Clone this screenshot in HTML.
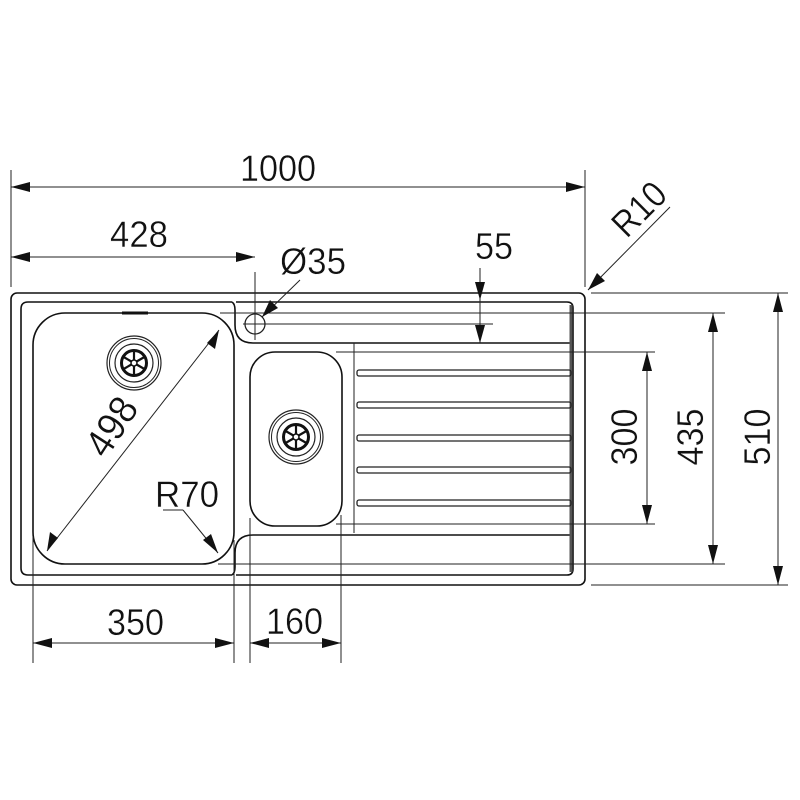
<!DOCTYPE html>
<html><head><meta charset="utf-8"><style>html,body{margin:0;padding:0;background:#fff}svg{display:block}</style></head>
<body>
<svg width="800" height="800" viewBox="0 0 800 800" xmlns="http://www.w3.org/2000/svg">
<defs>
<g id="drain">
<circle r="27" fill="none" stroke="#222" stroke-width="1.2"/>
<circle r="24.5" fill="none" stroke="#222" stroke-width="1"/>
<circle r="19" fill="none" stroke="#222" stroke-width="1.2"/>
<circle r="12.5" fill="none" stroke="#111" stroke-width="3"/>
<circle r="3" fill="none" stroke="#111" stroke-width="1.5"/>
<g stroke="#111" stroke-width="2.2">
<line x1="0" y1="-3" x2="0" y2="-12"/><line x1="0" y1="3" x2="0" y2="12"/>
<line x1="2.6" y1="-1.5" x2="10.4" y2="-6"/><line x1="-2.6" y1="-1.5" x2="-10.4" y2="-6"/>
<line x1="2.6" y1="1.5" x2="10.4" y2="6"/><line x1="-2.6" y1="1.5" x2="-10.4" y2="6"/>
</g>
</g>
</defs>
<g fill="none" stroke="#111" stroke-width="1.6">
<rect x="11" y="293" width="574" height="292" rx="6"/>
<path d="M232,302 H28 Q21,302 21,309 V568 Q21,575 28,575 H232"/>
<path d="M232,302 Q235,304 235,310 V325 Q235,343 253,343 H573"/>
<path d="M232,575 Q235,573 235,567 V553 Q235,535 253,535 H573"/>
<path d="M236,302 H567 Q573,302 573,308 V569 Q573,575 567,575 H236"/>
<line x1="571" y1="305" x2="571" y2="572" stroke-width="3" stroke="#555"/>
<rect x="33" y="313" width="201" height="251" rx="32"/>
<rect x="250" y="352" width="92" height="174" rx="25"/>
<line x1="122" y1="313" x2="148" y2="313" stroke-width="3"/>
</g>
<g fill="none" stroke="#222" stroke-width="1.3">
<rect x="357" y="370" width="214" height="6" rx="2"/>
<rect x="357" y="402" width="214" height="6" rx="2"/>
<rect x="357" y="435" width="214" height="6" rx="2"/>
<rect x="357" y="467" width="214" height="6" rx="2"/>
<rect x="357" y="500" width="214" height="6" rx="2"/>
<circle cx="255" cy="324" r="10"/>
</g>
<use href="#drain" x="134" y="363"/>
<use href="#drain" x="296" y="437"/>
<g stroke="#222" stroke-width="1" fill="none">
<line x1="11" y1="170" x2="11" y2="287"/>
<line x1="585" y1="170" x2="585" y2="287"/>
<line x1="255" y1="272" x2="255" y2="340"/>
<line x1="220" y1="313" x2="725" y2="313"/>
<line x1="243" y1="324" x2="493" y2="324"/>
<line x1="336" y1="352" x2="655" y2="352"/>
<line x1="336" y1="524" x2="655" y2="524"/>
<line x1="218" y1="564" x2="725" y2="564"/>
<line x1="591" y1="293" x2="788" y2="293"/>
<line x1="591" y1="585" x2="788" y2="585"/>
<line x1="354" y1="343" x2="354" y2="533"/>
<line x1="33" y1="537" x2="33" y2="663"/>
<line x1="234" y1="540" x2="234" y2="663"/>
<line x1="250" y1="518" x2="250" y2="663"/>
<line x1="341" y1="515" x2="341" y2="663"/>
<line x1="11" y1="187" x2="585" y2="187"/>
<line x1="11" y1="257" x2="255" y2="257"/>
<line x1="33" y1="643" x2="234" y2="643"/>
<line x1="250" y1="643" x2="341" y2="643"/>
<line x1="647" y1="352" x2="647" y2="524"/>
<line x1="713" y1="313" x2="713" y2="564"/>
<line x1="778" y1="293" x2="778" y2="585"/>
<line x1="480" y1="268" x2="480" y2="343"/>
<line x1="300" y1="280" x2="262" y2="317"/>
<line x1="670" y1="207" x2="588" y2="290"/>
<line x1="219" y1="330" x2="47" y2="551"/>
<line x1="163" y1="510" x2="183" y2="510"/>
<line x1="183" y1="510" x2="218" y2="553"/>
</g>
<g fill="#111">
<polygon points="11,187 30,182 30,192"/><polygon points="585,187 566,182 566,192"/>
<polygon points="11,257 30,252 30,262"/><polygon points="255,257 236,252 236,262"/>
<polygon points="33,643 52,638 52,648"/><polygon points="234,643 215,638 215,648"/>
<polygon points="250,643 269,638 269,648"/><polygon points="341,643 322,638 322,648"/>
<polygon points="647,352 642,371 652,371"/><polygon points="647,524 642,505 652,505"/>
<polygon points="713,313 708,332 718,332"/><polygon points="713,564 708,545 718,545"/>
<polygon points="778,293 773,312 783,312"/><polygon points="778,585 773,566 783,566"/>
<polygon points="480,300 475,282 485,282"/><polygon points="480,343 475,325 485,325"/>
<polygon points="262,317 270,300 278,308"/>
<polygon points="588,290 597,273 605,281"/>
<polygon points="219,330 215,349 207,343"/>
<polygon points="47,551 50,532 58,538"/>
<polygon points="218,553 203,540 211,534"/>
</g>
<g font-family="Liberation Sans, sans-serif" font-size="37" fill="#111" stroke="#fff" stroke-width="0.4">
<text x="240" y="181" textLength="76" lengthAdjust="spacingAndGlyphs">1000</text>
<text x="110" y="247" textLength="58" lengthAdjust="spacingAndGlyphs">428</text>
<text x="280" y="274" textLength="66" lengthAdjust="spacingAndGlyphs">Ø35</text>
<text x="475" y="259" textLength="38" lengthAdjust="spacingAndGlyphs">55</text>
<text x="107" y="635" textLength="57" lengthAdjust="spacingAndGlyphs">350</text>
<text x="266" y="634" textLength="57" lengthAdjust="spacingAndGlyphs">160</text>
<text x="155" y="507" textLength="64" lengthAdjust="spacingAndGlyphs">R70</text>
<text transform="translate(123,434) rotate(-57)" text-anchor="middle" font-size="40" textLength="62" lengthAdjust="spacingAndGlyphs">498</text>
<text transform="translate(648,218) rotate(-45)" text-anchor="middle" textLength="60" lengthAdjust="spacingAndGlyphs">R10</text>
<text transform="translate(637,437) rotate(-90)" text-anchor="middle" textLength="57" lengthAdjust="spacingAndGlyphs">300</text>
<text transform="translate(703,437) rotate(-90)" text-anchor="middle" textLength="57" lengthAdjust="spacingAndGlyphs">435</text>
<text transform="translate(770,437) rotate(-90)" text-anchor="middle" textLength="57" lengthAdjust="spacingAndGlyphs">510</text>
</g>
</svg>
</body></html>
